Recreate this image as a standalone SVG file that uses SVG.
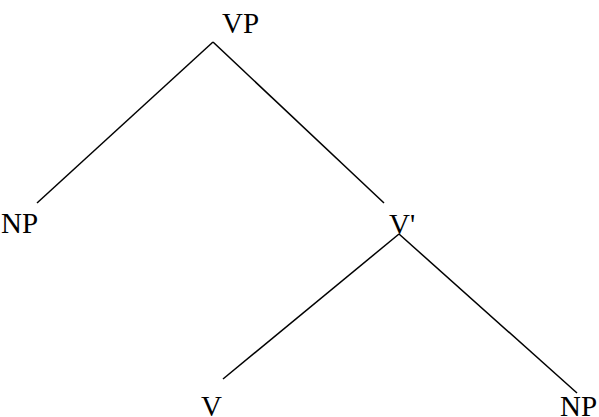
<svg xmlns="http://www.w3.org/2000/svg" width="599" height="417" viewBox="0 0 599 417">
<style>
text{font-family:"Liberation Serif","Times New Roman",serif;font-size:29px;fill:#000}
.e{stroke:#000;stroke-width:1.5;fill:none}
</style>
<rect width="599" height="417" fill="#fff"/>
<g id="connectors">
<line class="e" x1="213" y1="42" x2="37" y2="203"/>
<line class="e" x1="213" y1="42" x2="384" y2="203"/>
<line class="e" x1="399" y1="234" x2="223" y2="379"/>
<line class="e" x1="399" y1="234" x2="577" y2="393"/>
</g>
<g id="VP"><text x="222" y="33">VP</text></g>
<g id="NP1"><text x="1" y="233">NP</text></g>
<g id="Vbar"><text x="389" y="234">V'</text></g>
<g id="V"><text x="201" y="416">V</text></g>
<g id="NP2"><text x="560" y="416">NP</text></g>
</svg>
